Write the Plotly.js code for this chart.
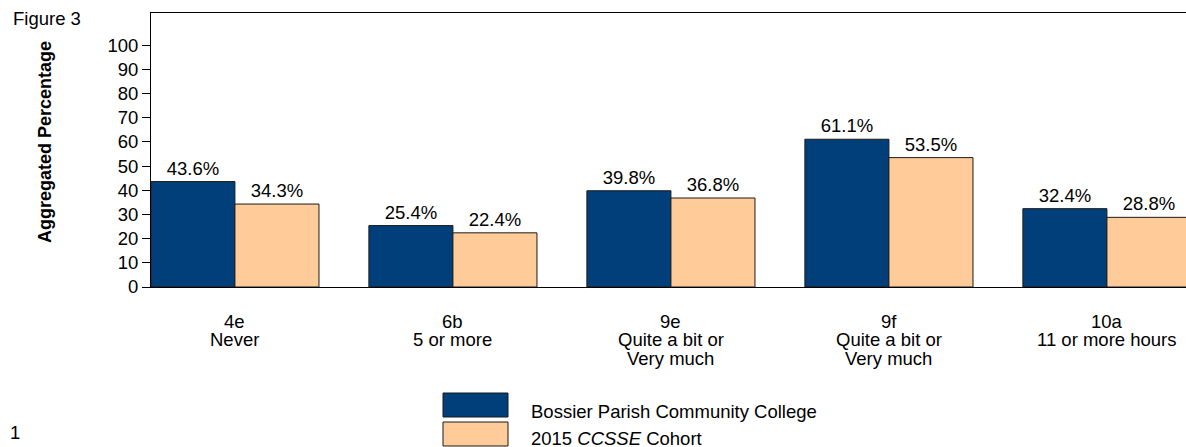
<!DOCTYPE html>
<html>
<head>
<meta charset="utf-8">
<script src="https://cdn.plot.ly/plotly-3.0.1.min.js"></script>
<style>
html,body{margin:0;padding:0;overflow:hidden;background:#fff;}
#chart{width:1200px;height:447px;}
</style>
</head>
<body>
<div id="chart"></div>
<script>
const categories = ["4e", "6b", "9e", "9f", "10a"];
const categoryLines = [["4e", "Never"], ["6b", "5 or more"], ["9e", "Quite a bit or", "Very much"], ["9f", "Quite a bit or", "Very much"], ["10a", "11 or more hours"]];
const collegeValues = [43.6, 25.4, 39.8, 61.1, 32.4];
const cohortValues = [34.3, 22.4, 36.8, 53.5, 28.8];
const seriesNames = ["Bossier Parish Community College", "2015 <i>CCSSE</i> Cohort"];
const yTicks = [0, 10, 20, 30, 40, 50, 60, 70, 80, 90, 100];

const FONT = "Arial, 'Liberation Sans', sans-serif";
const FS = 18.5;
const navy = "#003F7A";
const peach = "#FFCC99";
const W = 1200, H = 447, ML = 151, MR = 5, MT = 13, MB = 160;
const plotW = W - ML - MR, plotH = H - MT - MB;
const px = x => (x - ML) / plotW;
const py = y => (H - MB - y) / plotH;

const traces = [
  {type: "bar", x: categories, y: collegeValues, name: seriesNames[0],
   marker: {color: navy, line: {color: "#1a1a1a", width: 1}},
   text: collegeValues.map(v => v.toFixed(1) + "%"), textposition: "outside",
   textfont: {family: FONT, size: FS, color: "#000"}, cliponaxis: false, hoverinfo: "none"},
  {type: "bar", x: categories, y: cohortValues, name: seriesNames[1],
   marker: {color: peach, line: {color: "#1a1a1a", width: 1}},
   text: cohortValues.map(v => v.toFixed(1) + "%"), textposition: "outside",
   textfont: {family: FONT, size: FS, color: "#000"}, cliponaxis: false, hoverinfo: "none"}
];

const layout = {
  width: W, height: H,
  margin: {l: ML, r: MR, t: MT, b: MB},
  paper_bgcolor: "#fff", plot_bgcolor: "#fff",
  font: {family: FONT, size: FS, color: "#000"},
  showlegend: false,
  barmode: "group", bargap: 0.229, bargroupgap: 0,
  xaxis: {
    type: "category", range: [-0.385, -0.385 + plotW / 218],
    showline: true, linecolor: "#000", linewidth: 1, mirror: true,
    ticks: "", showgrid: false, zeroline: false, showticklabels: false
  },
  yaxis: {
    range: [0, 113.3], tickvals: yTicks, ticktext: yTicks.map(String),
    showline: true, linecolor: "#000", linewidth: 1, mirror: true,
    ticks: "outside", ticklen: 8, tickcolor: "#000",
    showgrid: false, zeroline: false,
    tickfont: {family: FONT, size: FS, color: "#000"}
  },
  shapes: [],
  annotations: [
    {text: "Figure 3", xref: "paper", yref: "paper", x: px(11), y: py(18.5), xanchor: "left", yanchor: "middle", showarrow: false, font: {family: FONT, size: FS}},
    {text: "1", xref: "paper", yref: "paper", x: px(8), y: py(432), xanchor: "left", yanchor: "middle", showarrow: false, font: {family: FONT, size: FS}},
    {text: "<b>Aggregated Percentage</b>", xref: "paper", yref: "paper", x: px(45), y: py(142), xanchor: "center", yanchor: "middle", textangle: -90, showarrow: false, font: {family: FONT, size: 18}}
  ]
};

// category labels, one line each, tight line spacing as in the reference
categoryLines.forEach((lines, ci) => {
  lines.forEach((ln, li) => {
    layout.annotations.push({text: ln, xref: "x", yref: "paper", x: categories[ci], y: 0,
      yanchor: "middle", xanchor: "center", yshift: -(34 + li * 18.5), showarrow: false,
      font: {family: FONT, size: FS}});
  });
});

// legend box built from series names and colours
const legendColors = [navy, peach];
legendColors.forEach((c, i) => {
  const top = 393 + i * 29, bot = top + 24;
  layout.shapes.push({type: "rect", xref: "paper", yref: "paper",
    x0: px(443), x1: px(508), y0: py(bot), y1: py(top),
    fillcolor: c, line: {color: "#1a1a1a", width: 1}});
  layout.annotations.push({text: seriesNames[i], xref: "paper", yref: "paper",
    x: px(529), y: py(411 + i * 27), xanchor: "left", yanchor: "middle",
    showarrow: false, font: {family: FONT, size: FS}});
});

Plotly.newPlot("chart", traces, layout, {displayModeBar: false, staticPlot: true});
</script>
</body>
</html>
